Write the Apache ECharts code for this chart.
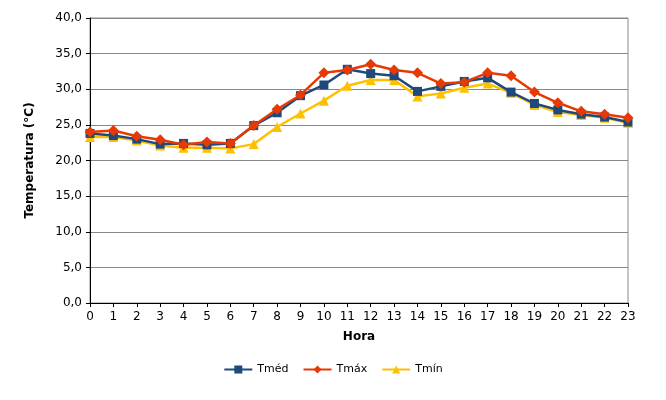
<!DOCTYPE html><html><head><meta charset="utf-8"><script src="https://cdn.jsdelivr.net/npm/echarts@6/dist/echarts.min.js"></script></head><body style="margin:0"><div id="c" style="width:666px;height:400px"></div><script>
const horas=[...Array(24).keys()].map(String);
const tmed=[23.8,23.5,23.0,22.3,22.4,22.2,22.4,24.9,26.7,29.1,30.6,32.8,32.2,31.9,29.7,30.4,31.1,31.6,29.6,28.0,27.1,26.5,26.1,25.4];
const tmax=[24.0,24.2,23.4,22.9,22.2,22.6,22.4,24.9,27.2,29.2,32.3,32.7,33.5,32.7,32.3,30.8,31.0,32.3,31.9,29.6,28.1,26.9,26.5,26.0];
const tmin=[23.3,23.3,22.8,22.1,21.8,21.8,21.7,22.3,24.7,26.6,28.4,30.5,31.3,31.3,29.0,29.4,30.2,30.8,29.5,27.8,26.8,26.4,26.0,25.3];
const f='DejaVu Sans';
const ch=echarts.init(document.getElementById('c'));
ch.setOption({animation:false,textStyle:{fontFamily:f},
grid:{left:90,right:38,top:18,bottom:97,show:true,borderColor:'#888',borderWidth:1},
legend:{bottom:20,itemGap:14,itemWidth:28,itemHeight:10,textStyle:{fontFamily:f,fontSize:11,color:'#000'},data:['Tméd','Tmáx','Tmín']},
xAxis:{type:'category',boundaryGap:false,data:horas,name:'Hora',nameLocation:'middle',nameGap:28,nameTextStyle:{fontWeight:'bold',fontSize:12,color:'#000'},axisLine:{lineStyle:{color:'#000'}},axisTick:{show:true,length:4,lineStyle:{color:'#000'}},axisLabel:{color:'#000',fontSize:12,margin:8},splitLine:{show:false}},
yAxis:{type:'value',min:0,max:40,interval:5,name:'Temperatura (°C)',nameLocation:'middle',nameGap:54,nameTextStyle:{fontWeight:'bold',fontSize:12,color:'#000'},axisLine:{show:true,lineStyle:{color:'#000'}},axisTick:{show:true,length:4,lineStyle:{color:'#000'}},axisLabel:{color:'#000',fontSize:12,formatter:v=>v.toFixed(1).replace('.',',')},splitLine:{lineStyle:{color:'#888'}}},
series:[
{name:'Tméd',type:'line',data:tmed,symbol:'rect',symbolSize:9,itemStyle:{color:'#1F497D'},lineStyle:{width:2.5},z:3},
{name:'Tmáx',type:'line',data:tmax,symbol:'diamond',symbolSize:11,itemStyle:{color:'#E63A05'},lineStyle:{width:2.5},z:4},
{name:'Tmín',type:'line',data:tmin,symbol:'triangle',symbolSize:10,itemStyle:{color:'#FFC000'},lineStyle:{width:2.5},z:2}]});
</script></body></html>
